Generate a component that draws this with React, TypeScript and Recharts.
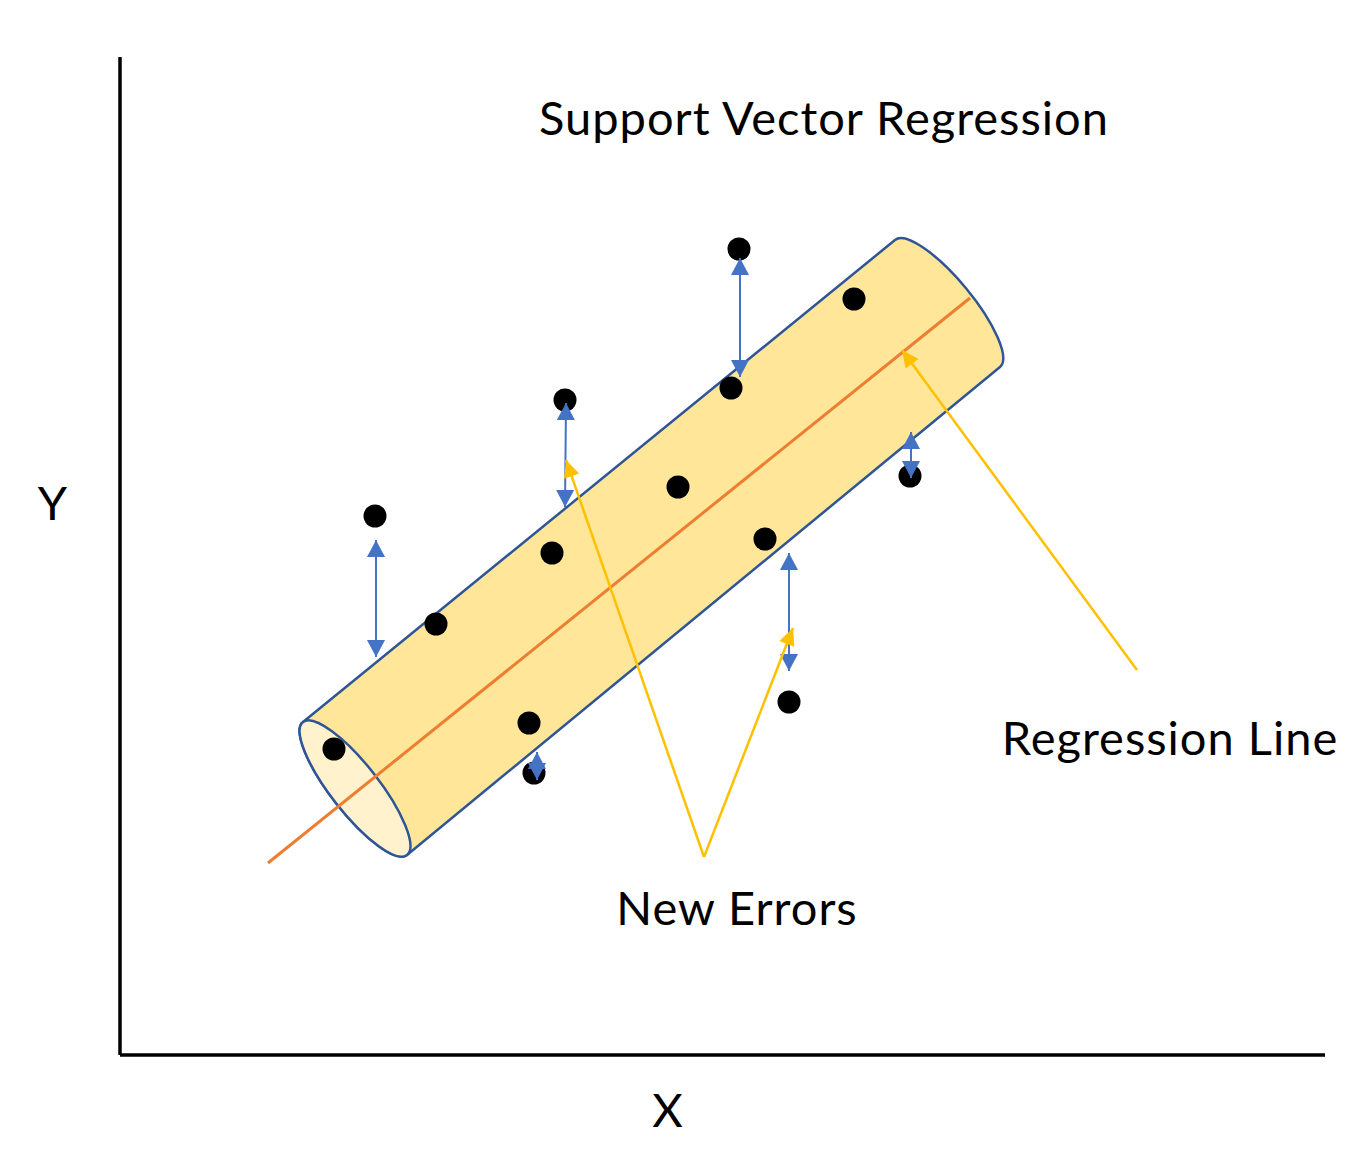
import { ScatterChart, Scatter, XAxis, YAxis, Label } from 'recharts';

// values, origin at the corner of the two axes
const dots = [
  { x: 214, y: 306 }, { x: 316, y: 431 }, { x: 255, y: 539 }, { x: 409, y: 332 },
  { x: 414, y: 282 }, { x: 432, y: 502 }, { x: 445, y: 655 }, { x: 558, y: 568 },
  { x: 611, y: 667 }, { x: 619, y: 806 }, { x: 645, y: 516 }, { x: 669, y: 353 },
  { x: 734, y: 756 }, { x: 790, y: 579 },
];

// top-left, top-right, bottom-right, bottom-left corner of the tube
const tube = [
  { x: 183, y: 333 }, { x: 775, y: 815 }, { x: 880, y: 688 }, { x: 287, y: 200 },
];

const regressionLine = [{ x: 148, y: 192 }, { x: 850, y: 757 }];

// error arrows, pairs of (top tip, bottom tip)
const errorArrows = [
  { x: 256, y: 515 }, { x: 256, y: 398 },
  { x: 446, y: 652 }, { x: 445, y: 548 },
  { x: 620, y: 797 }, { x: 620, y: 678 },
  { x: 791, y: 623 }, { x: 791, y: 577 },
  { x: 669, y: 502 }, { x: 669, y: 384 },
  { x: 417, y: 303 }, { x: 417, y: 275 },
];

// callout arrows, pairs of (start, tip)
const pointers = [
  { x: 584, y: 198 }, { x: 446, y: 595 },
  { x: 584, y: 198 }, { x: 673, y: 427 },
  { x: 1017, y: 385 }, { x: 782, y: 705 },
];

const notes = [
  { x: 704, y: 920, text: 'Support Vector Regression' },
  { x: 1050, y: 300, text: 'Regression Line' },
  { x: 617, y: 130, text: 'New Errors' },
];

const FONT = 'Lato, "Open Sans", sans-serif';
const FONT_SIZE = 47;
const LETTER_SPACING = 1;
const TUBE_RY = 24;

type P = { x: number; y: number };

function arc(a: P, b: P, sweep: number) {
  const rx = Math.hypot(b.x - a.x, b.y - a.y) / 2;
  const rot = (Math.atan2(b.y - a.y, b.x - a.x) * 180) / Math.PI;
  return `A${rx},${TUBE_RY} ${rot} 0 ${sweep} ${b.x},${b.y}`;
}

function head(tip: P, from: P, len: number, half: number) {
  const d = Math.hypot(tip.x - from.x, tip.y - from.y) || 1;
  const ux = (tip.x - from.x) / d;
  const uy = (tip.y - from.y) / d;
  const bx = tip.x - ux * len;
  const by = tip.y - uy * len;
  return `M${tip.x},${tip.y} L${bx - uy * half},${by + ux * half} L${bx + uy * half},${by - ux * half} Z`;
}

const renderTube = ({ points }: { points: P[] }) => {
  const [p0, p1, p2, p3] = points;
  const body = `M${p0.x},${p0.y} L${p1.x},${p1.y} ${arc(p1, p2, 1)} L${p3.x},${p3.y} ${arc(p3, p0, 1)} Z`;
  const end = `M${p0.x},${p0.y} ${arc(p0, p3, 1)} ${arc(p3, p0, 1)} Z`;
  return (
    <g>
      <path d={body} fill="#FFE699" stroke="#2F5597" strokeWidth={2.5} strokeLinejoin="round" />
      <path d={end} fill="#FFF2CC" stroke="#2F5597" strokeWidth={2.5} />
    </g>
  );
};

const renderStraight = ({ points }: { points: P[] }) => (
  <line x1={points[0].x} y1={points[0].y} x2={points[1].x} y2={points[1].y} stroke="#ED7D31" strokeWidth={3} />
);

const renderDoubleArrows = ({ points }: { points: P[] }) => {
  const items = [];
  for (let i = 0; i + 1 < points.length; i += 2) {
    const a = points[i];
    const b = points[i + 1];
    items.push(
      <g key={i}>
        <line x1={a.x} y1={a.y} x2={b.x} y2={b.y} stroke="#4472C4" strokeWidth={2} />
        <path d={head(a, b, 17, 9)} fill="#4472C4" />
        <path d={head(b, a, 17, 9)} fill="#4472C4" />
      </g>
    );
  }
  return <g>{items}</g>;
};

const renderPointers = ({ points }: { points: P[] }) => {
  const items = [];
  for (let i = 0; i + 1 < points.length; i += 2) {
    const a = points[i];
    const b = points[i + 1];
    items.push(
      <g key={i}>
        <line x1={a.x} y1={a.y} x2={b.x} y2={b.y} stroke="#FFC000" strokeWidth={2.5} />
        <path d={head(b, a, 17, 8)} fill="#FFC000" />
      </g>
    );
  }
  return <g>{items}</g>;
};

const noShape = () => <g />;

const axisText = (text: string, dx: number, dy: number) => (props: any) => {
  const vb = props.viewBox || { x: 0, y: 0 };
  return (
    <text
      x={vb.x + dx}
      y={vb.y + dy}
      textAnchor="middle"
      fontFamily={FONT}
      fontSize={FONT_SIZE}
      letterSpacing={LETTER_SPACING}
      fill="#000"
    >
      {text}
    </text>
  );
};

export default function App() {
  return (
    <div style={{ position: 'absolute', left: 0, top: 0, width: 1358, height: 1165, background: '#fff' }}>
      <ScatterChart width={1358} height={1165} margin={{ top: 57, right: 33, left: 0, bottom: 0 }}>
        <XAxis
          type="number"
          dataKey="x"
          domain={[0, 1205]}
          height={110}
          tick={false}
          tickLine={false}
          axisLine={{ stroke: '#000', strokeWidth: 3.5 }}
        >
          <Label content={axisText('X', 548, 72)} />
        </XAxis>
        <YAxis
          type="number"
          dataKey="y"
          domain={[0, 998]}
          width={120}
          tick={false}
          tickLine={false}
          axisLine={{ stroke: '#000', strokeWidth: 3.5 }}
        >
          <Label content={axisText('Y', 53, 463)} />
        </YAxis>
        <Scatter data={tube} shape={noShape} line={renderTube} isAnimationActive={false} />
        <Scatter data={regressionLine} shape={noShape} line={renderStraight} isAnimationActive={false} />
        <Scatter
          data={dots}
          shape={(p: any) => <circle cx={p.cx} cy={p.cy} r={11.5} fill="#000" />}
          isAnimationActive={false}
        />
        <Scatter data={errorArrows} shape={noShape} line={renderDoubleArrows} isAnimationActive={false} />
        <Scatter data={pointers} shape={noShape} line={renderPointers} isAnimationActive={false} />
        <Scatter
          data={notes}
          shape={(p: any) => (
            <text
              x={p.cx}
              y={p.cy}
              textAnchor="middle"
              fontFamily={FONT}
              fontSize={FONT_SIZE}
              letterSpacing={LETTER_SPACING}
              fill="#000"
            >
              {p.payload.text}
            </text>
          )}
          isAnimationActive={false}
        />
      </ScatterChart>
    </div>
  );
}
